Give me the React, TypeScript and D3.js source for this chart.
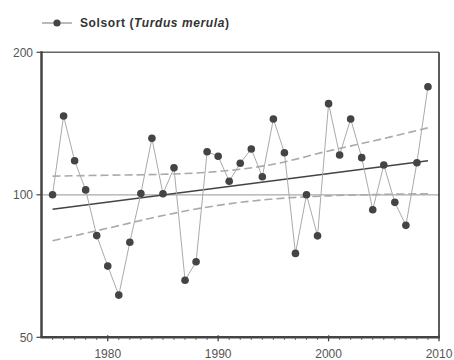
import React from "react";
import * as d3 from "d3";

const years = d3.range(1975, 2010);
const index = [100, 146.7, 118, 102.4, 82, 70.7, 61.4, 79.4, 100.6, 131.6, 100.5, 114, 66, 72.2, 123.3, 120.6, 106.8, 116.6, 125, 109.2, 144.6, 122.7, 75.2, 100, 81.9, 155.8, 121.4, 144.6, 119.8, 93, 115.6, 96.4, 86.2, 116.9, 169.2];
const trendYears = [1975, 2009];
const trendValues = [93.2, 118];
const ciYears = [1975, 1980, 1985, 1990, 1995, 2000, 2005, 2009];
const ciUpper = [109.5, 110, 110.5, 112, 116, 123.8, 131.5, 138.5];
const ciLower = [80, 85, 90.4, 95, 98, 99.5, 100.2, 100.5];
const yTicks = [50, 100, 200];
const xTicks = [1980, 1990, 2000, 2010];
const legendName = "Solsort";
const legendLatin = "Turdus merula";

export default function App() {
  const W = 454, H = 360;
  const left = 41.5, right = 439, top = 52.3, bottom = 337.3;
  const x = d3.scaleLinear().domain([1974, 2010]).range([left, right]);
  const y = d3.scaleLog().domain([50, 200]).range([bottom, top]);
  const dataLine = d3.line<number>().x((_, i) => x(years[i])).y((d) => y(d));
  const trendLine = d3.line<number>().x((_, i) => x(trendYears[i])).y((d) => y(d));
  const ciLine = d3.line<number>().x((_, i) => x(ciYears[i])).y((d) => y(d)).curve(d3.curveMonotoneX);
  const minor = d3.range(1975, 2010).filter((v) => !xTicks.includes(v));
  const font = "Arial, 'Liberation Sans', sans-serif";
  return (
    <svg width={W} height={H} style={{ position: "absolute", left: 0, top: 0, background: "#fff" }} fontFamily={font}>
      {/* legend */}
      <line x1={42} x2={72} y1={23} y2={23} stroke="#777" strokeWidth={1} />
      <circle cx={57} cy={23} r={3.6} fill="#444" />
      <text x={80} y={27} fontSize={12} letterSpacing={0.6} fontWeight="bold" fill="#333">
        {legendName} (<tspan fontStyle="italic">{legendLatin}</tspan>)
      </text>
      {/* reference line at 100 */}
      <line x1={left} x2={right} y1={y(100)} y2={y(100)} stroke="#aaa" strokeWidth={1.3} />
      {/* CI */}
      <path d={ciLine(ciUpper) || ""} fill="none" stroke="#aaa" strokeWidth={1.6} strokeDasharray="8,4" />
      <path d={ciLine(ciLower) || ""} fill="none" stroke="#aaa" strokeWidth={1.6} strokeDasharray="8,4" />
      {/* trend */}
      <path d={trendLine(trendValues) || ""} fill="none" stroke="#444" strokeWidth={1.6} />
      {/* data */}
      <path d={dataLine(index) || ""} fill="none" stroke="#aaa" strokeWidth={1} />
      {index.map((v, i) => (
        <circle key={i} cx={x(years[i])} cy={y(v)} r={3.8} fill="#444" />
      ))}
      {/* frame */}
      <line x1={left} x2={right} y1={top} y2={top} stroke="#666" strokeWidth={1.6} />
      <line x1={right} x2={right} y1={top} y2={bottom} stroke="#333" strokeWidth={1.6} />
      <line x1={left} x2={left} y1={top - 1} y2={bottom} stroke="#444" strokeWidth={2.5} />
      <line x1={left - 1} x2={right + 1} y1={bottom} y2={bottom} stroke="#444" strokeWidth={2.5} />
      {/* y ticks */}
      {yTicks.map((t) => (
        <g key={t}>
          <line x1={left - 5} x2={left} y1={y(t)} y2={y(t)} stroke="#444" strokeWidth={1.2} />
          <text x={33} y={y(t)} dy="0.35em" textAnchor="end" fontSize={12} fill="#555">{t}</text>
        </g>
      ))}
      {/* x ticks */}
      {minor.map((t) => (
        <line key={t} x1={x(t)} x2={x(t)} y1={bottom} y2={bottom + 2.5} stroke="#555" strokeWidth={1} />
      ))}
      {xTicks.map((t) => (
        <g key={t}>
          <line x1={x(t)} x2={x(t)} y1={bottom - 2} y2={bottom + 4} stroke="#444" strokeWidth={1.3} />
          <text x={x(t)} y={358} textAnchor="middle" fontSize={12} fill="#555">{t}</text>
        </g>
      ))}
    </svg>
  );
}
